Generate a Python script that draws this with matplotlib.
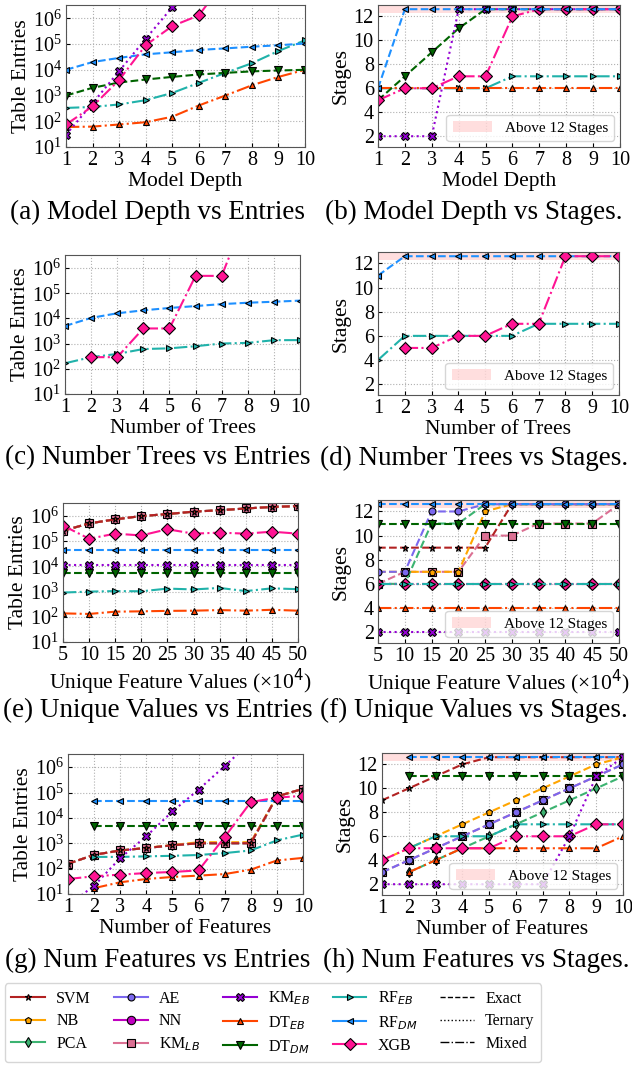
import numpy as np
import matplotlib
matplotlib.use("Agg")
import matplotlib.pyplot as plt
from matplotlib.lines import Line2D
from matplotlib.patches import Patch

plt.rcParams['font.family'] = ['Liberation Serif', 'DejaVu Serif']
plt.rcParams['mathtext.fontset'] = 'dejavusans'

nan = np.nan
ABOVE = 12.6  # where "above 12 stages" gets drawn

depth = list(range(1, 11))
trees = list(range(1, 11))
unique_vals = [5, 10, 15, 20, 25, 30, 35, 40, 45, 50]
n_features = list(range(1, 11))

# (a) model depth vs table entries
depth_entries = {
    "RF_EB": [330, 360, 450, 660, 1260, 3100, 7600, 1.8e4, 5.4e4, 1.4e5],
    "DT_EB": [60, 62, 75, 92, 150, 410, 1000, 2500, 5300, 1e4],
    "DT_DM": [1000, 2000, 3200, 4200, 5300, 6600, 7600, 8700, 9400, 1e4],
    "RF_DM": [1e4, 2e4, 2.9e4, 4e4, 4.8e4, 5.9e4, 6.8e4, 7.9e4, 9e4, 1.05e5],
    "KM_EB": [30, 500, 8900, 1.6e5, 2.7e6, 5e7, 1e9, 2e10, 4e11, 8e12],
    "XGB": [75, 380, 4000, 9e4, 5e5, 1.3e6, 3e7, 5e8, 8e9, 1e11],
}
# (b) model depth vs stages
depth_stages = {
    "RF_EB": [6, 6, 6, 6, 6, 7, 7, 7, 7, 7],
    "DT_EB": [6, 6, 6, 6, 6, 6, 6, 6, 6, 6],
    "DT_DM": [5, 7, 9, 11, ABOVE, ABOVE, ABOVE, ABOVE, ABOVE, ABOVE],
    "KM_EB": [2, 2, 2, ABOVE, ABOVE, ABOVE, ABOVE, ABOVE, ABOVE, ABOVE],
    "XGB": [5, 6, 6, 7, 7, 12, ABOVE, ABOVE, ABOVE, ABOVE],
    "RF_DM": [6, ABOVE, ABOVE, ABOVE, ABOVE, ABOVE, ABOVE, ABOVE, ABOVE, ABOVE],
}
# (c) number of trees vs table entries
trees_entries = {
    "RF_EB": [166, 290, 390, 610, 650, 790, 1010, 1070, 1370, 1380],
    "RF_DM": [5000, 1.05e4, 1.6e4, 2.1e4, 2.6e4, 3.1e4, 3.7e4, 4.2e4, 4.6e4, 5.1e4],
    "XGB": [nan, 290, 290, 4000, 4000, 4.9e5, 4.9e5, 2e8, 2e8, 1e9],
}
# (d) number of trees vs stages
trees_stages = {
    "RF_EB": [4, 6, 6, 6, 6, 6, 7, 7, 7, 7],
    "RF_DM": [11, ABOVE, ABOVE, ABOVE, ABOVE, ABOVE, ABOVE, ABOVE, ABOVE, ABOVE],
    "XGB": [nan, 5, 5, 6, 6, 7, 7, ABOVE, ABOVE, ABOVE],
}
# (e) unique feature values vs table entries
top_line = [2.6e5, 5.1e5, 7.4e5, 1e6, 1.2e6, 1.5e6, 1.7e6, 2e6, 2.3e6, 2.5e6]
unique_entries = {
    "NN": top_line,
    "AE": top_line,
    "PCA": top_line,
    "NB": top_line,
    "KM_LB": top_line,
    "SVM": top_line,
    "DT_EB": [137, 130, 160, 165, 172, 175, 185, 175, 190, 175],
    "RF_EB": [920, 1000, 1050, 1030, 1320, 1220, 1400, 1050, 1350, 1250],
    "DT_DM": [5300] * 10,
    "KM_EB": [1.1e4] * 10,
    "RF_DM": [4.6e4] * 10,
    "XGB": [4.2e5, 1.26e5, 2e5, 1.7e5, 3e5, 2e5, 2.2e5, 2e5, 2.4e5, 2e5],
}
# (f) unique feature values vs stages
unique_stages = {
    "KM_LB": [6, 7, 7, 7, 10, 10, 11, 11, 11, ABOVE],
    "SVM": [9, 9, 9, 9, 9, ABOVE, ABOVE, ABOVE, ABOVE, ABOVE],
    "NB": [7, 7, 7, 7, 12, ABOVE, ABOVE, ABOVE, ABOVE, ABOVE],
    "PCA": [6, 6, 11, 11, ABOVE, ABOVE, ABOVE, ABOVE, ABOVE, ABOVE],
    "AE": [7, 7, 12, 12, ABOVE, ABOVE, ABOVE, ABOVE, ABOVE, ABOVE],
    "DT_DM": [11] * 10,
    "RF_DM": [ABOVE] * 10,
    "NN": [6] * 10,
    "XGB": [6] * 10,
    "RF_EB": [6] * 10,
    "DT_EB": [4] * 10,
    "KM_EB": [2] * 10,
}
# (g) number of features vs table entries
feat_line = [155, 350, 520, 650, 830, 1000, 1000, 1000, 7e4, 1.4e5]
features_entries = {
    "AE": feat_line,
    "PCA": feat_line,
    "NB": [155, 350, 520, 660, 850, 1100, 1100, 1100, 7e4, 1.4e5],
    "KM_LB": feat_line,
    "SVM": feat_line,
    "DT_EB": [nan, 17, 29, 39, 47, 53, 61, 91, 210, 265],
    "RF_EB": [nan, 290, 290, 305, 320, 345, 410, 520, 1300, 2200],
    "DT_DM": [nan] + [5000] * 9,
    "RF_DM": [nan] + [4.7e4] * 9,
    "KM_EB": [3.6, 21, 260, 1900, 1.8e4, 1.3e5, 1.1e6, 1e7, 1e8, 1e9],
    "XGB": [39, 50, 58, 67, 74, 85, 1750, 4.2e4, 6.3e4, 7.4e4],
}
# (h) number of features vs stages
features_stages = {
    "SVM": [9, 10, 11, 12, ABOVE, ABOVE, ABOVE, ABOVE, ABOVE, ABOVE],
    "NB": [4, 5, 6, 7, 8, 9, 10, 11, 12, ABOVE],
    "KM_LB": [3, 4, 5, 6, 7, 8, 9, 10, 11, 12],
    "AE": [3, 4, 5, 6, 7, 8, 9, 10, 11, 12],
    "PCA": [nan, 3, 4, 5, 6, 7, 8, 9, 10, 11],
    "DT_DM": [nan] + [11] * 9,
    "RF_DM": [nan] + [ABOVE] * 9,
    "RF_EB": [nan, 5, 6, 6, 6, 7, 7, 7, 7, 7],
    "DT_EB": [nan, 3, 4, 5, 5, 5, 5, 5, 5, 6],
    "XGB": [4, 5, 5, 5, 5, 6, 6, 6, 7, 7],
    "KM_EB": [2, 2, 2, 2, 2, 2, 2, 6, 11, ABOVE],
}

# colour, marker, line style, marker size
style = {
    "SVM": ("#b22222", "*", "--", 5),
    "NB": ("#ffa500", "p", "--", 5),
    "PCA": ("#3cb371", "d", "--", 5),
    "AE": ("#7b68ee", "o", "--", 5),
    "NN": ("#c000c0", "o", ":", 6),
    "KM_LB": ("#db7093", "s", "--", 6),
    "KM_EB": ("#9400d3", "X", ":", 6),
    "DT_EB": ("#ff4500", "^", "-.", 5),
    "DT_DM": ("#006400", "v", "--", 6),
    "RF_EB": ("#20b2aa", ">", "-.", 5),
    "RF_DM": ("#1e90ff", "<", "--", 5),
    "XGB": ("#ff1493", "D", "-.", 6),
}
labels = {
    "SVM": "SVM", "NB": "NB", "PCA": "PCA", "AE": "AE", "NN": "NN",
    "KM_LB": "KM$_{LB}$", "KM_EB": "KM$_{EB}$", "DT_EB": "DT$_{EB}$",
    "DT_DM": "DT$_{DM}$", "RF_EB": "RF$_{EB}$", "RF_DM": "RF$_{DM}$", "XGB": "XGB",
}
legend_order = ["SVM", "NB", "PCA", "AE", "NN", "KM_LB",
                "KM_EB", "DT_EB", "DT_DM", "RF_EB", "RF_DM", "XGB"]

W, H = 632, 1066
fig = plt.figure(figsize=(W / 100, H / 100), dpi=100)


def box(l, r, t, b):
    return [l / W, 1 - b / H, (r - l) / W, (b - t) / H]


def draw(ax, x, data):
    for name, vals in data.items():
        c, m, ls, ms = style[name]
        ax.plot(x, vals, color=c, marker=m, linestyle=ls, lw=1.5, ms=ms,
                mec="black", mew=0.8)
    ax.grid(True, linestyle=":", color="#b0b0b0", lw=0.8)
    ax.tick_params(labelsize=14.5, direction="in", length=3, pad=3)
    ax.set_xlim(x[0], x[-1])
    ax.set_xticks(x)
    for s in ax.spines.values():
        s.set_color("#555555")


def entries_axes(ax, xlabel):
    ax.set_yscale("log")
    ax.set_ylim(10, 3.3e6)
    ax.set_yticks([1e1, 1e2, 1e3, 1e4, 1e5, 1e6])
    ax.set_ylabel("Table Entries", fontsize=15.5, labelpad=1)
    ax.set_xlabel(xlabel, fontsize=15.5, labelpad=1)


def stages_axes(ax, xlabel):
    ax.axhspan(12.25, 13, color="red", alpha=0.13, lw=0, zorder=0)
    ax.set_ylim(1.1, 12.95)
    ax.set_yticks([2, 4, 6, 8, 10, 12])
    ax.set_ylabel("Stages", fontsize=15.5, labelpad=2)
    ax.set_xlabel(xlabel, fontsize=15.5, labelpad=1)
    ax.legend(handles=[Patch(color="red", alpha=0.13, lw=0, label="Above 12 Stages")],
              loc="lower right", fontsize=11, framealpha=0.8, handlelength=2.6,
              borderaxespad=0.4)


uf_label = "Unique Feature Values (\u00d710$^{4}$)"
panels = [
    (box(66, 305, 5, 147), depth, depth_entries, "entries", "Model Depth",
     "(a) Model Depth vs Entries", 158, 212),
    (box(378, 620, 5, 147), depth, depth_stages, "stages", "Model Depth",
     "(b) Model Depth vs Stages.", 474, 212),
    (box(65, 300, 255, 394), trees, trees_entries, "entries", "Number of Trees",
     "(c) Number Trees vs Entries", 158, 458),
    (box(378, 619, 252, 395), trees, trees_stages, "stages", "Number of Trees",
     "(d) Number Trees vs Stages.", 474, 458),
    (box(63, 298, 503, 642), unique_vals, unique_entries, "entries",
     uf_label, "(e) Unique Values vs Entries", 158, 710),
    (box(378, 619, 500, 643), unique_vals, unique_stages, "stages",
     uf_label, "(f) Unique Values vs Stages.", 474, 710),
    (box(68, 303, 754, 894), n_features, features_entries, "entries",
     "Number of Features", "(g) Num Features vs Entries", 158, 960),
    (box(382, 623, 753, 895), n_features, features_stages, "stages",
     "Number of Features", "(h) Num Features vs Stages.", 476, 960),
]

for rect, x, data, kind, xlabel, caption, cx, cy in panels:
    ax = fig.add_axes(rect)
    draw(ax, x, data)
    if kind == "entries":
        entries_axes(ax, xlabel)
    else:
        stages_axes(ax, xlabel)
    fig.text(cx / W, 1 - cy / H, caption, fontsize=19.5, ha="center", va="center")

handles = []
for name in legend_order:
    c, m, ls, ms = style[name]
    handles.append(Line2D([], [], color=c, marker=m, ls="-", lw=1.5, ms=ms,
                          mec="black", mew=0.8, label=labels[name]))
handles += [
    Line2D([], [], color="black", ls="--", lw=1, label="Exact"),
    Line2D([], [], color="black", ls=":", lw=1, label="Ternary"),
    Line2D([], [], color="black", ls="-.", lw=1, label="Mixed"),
]
fig.legend(handles=handles, ncol=5, loc="lower left",
           bbox_to_anchor=(5 / W, 4 / H), borderaxespad=0, fontsize=11.5,
           frameon=True, handlelength=2.1, handletextpad=0.7,
           columnspacing=1.45, labelspacing=0.4,
           edgecolor="#cccccc", fancybox=True)

fig.savefig("out.png", dpi=100)
